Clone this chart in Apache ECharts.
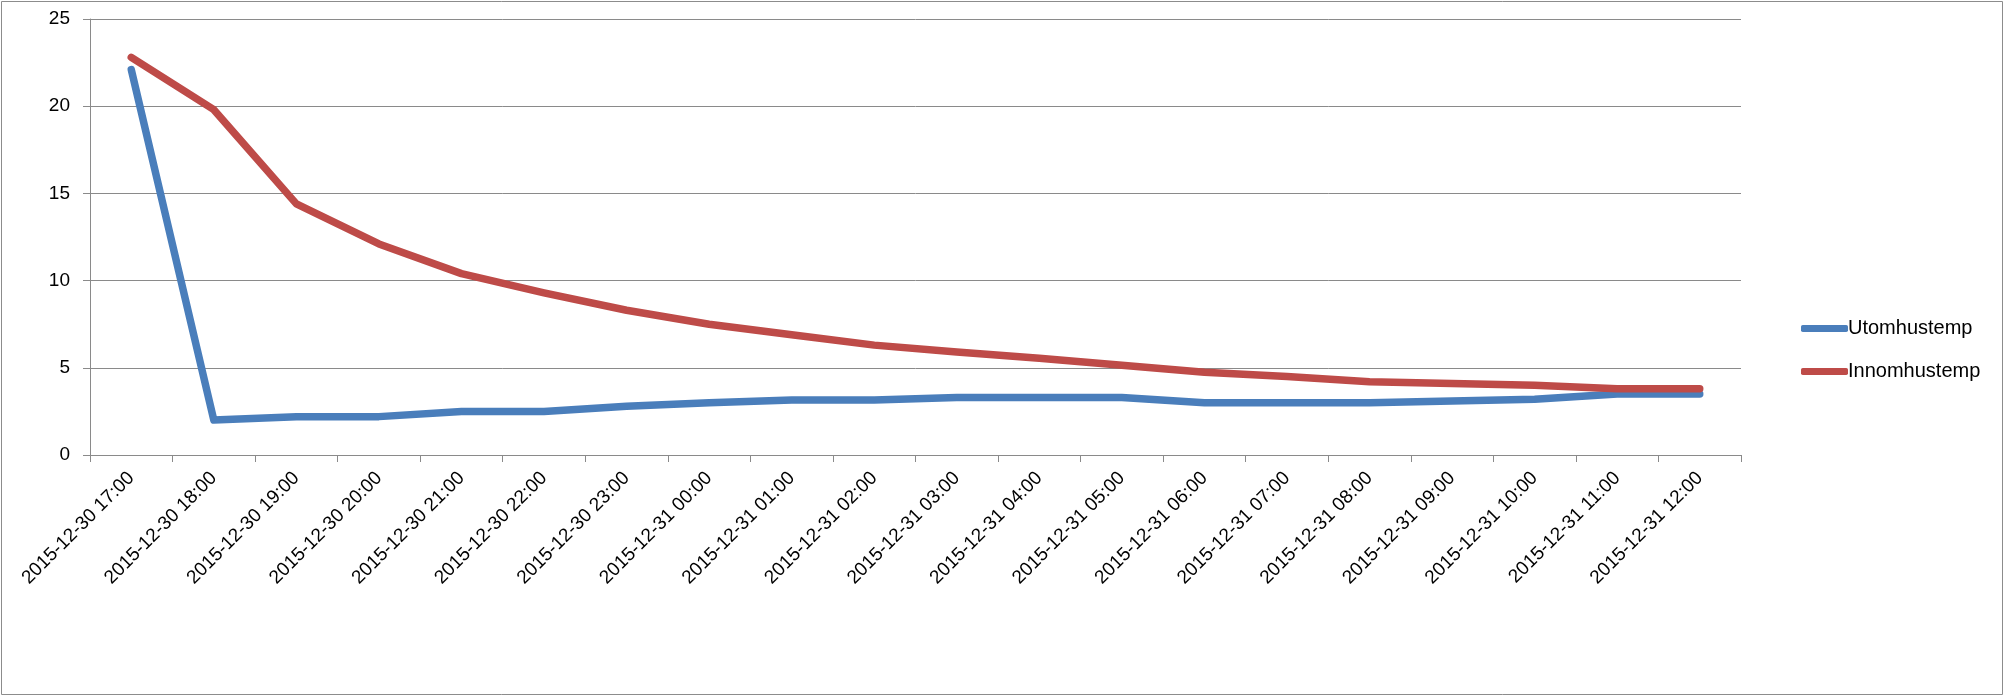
<!DOCTYPE html>
<html>
<head>
<meta charset="utf-8">
<script src="https://cdn.jsdelivr.net/npm/echarts@6/dist/echarts.min.js"></script>
<style>
  html, body { margin: 0; padding: 0; background: #ffffff; }
  #chart { width: 2005px; height: 696px; }
</style>
</head>
<body>
<div id="chart"></div>
<script>
const categories = [
  '2015-12-30 17:00', '2015-12-30 18:00', '2015-12-30 19:00', '2015-12-30 20:00',
  '2015-12-30 21:00', '2015-12-30 22:00', '2015-12-30 23:00', '2015-12-31 00:00',
  '2015-12-31 01:00', '2015-12-31 02:00', '2015-12-31 03:00', '2015-12-31 04:00',
  '2015-12-31 05:00', '2015-12-31 06:00', '2015-12-31 07:00', '2015-12-31 08:00',
  '2015-12-31 09:00', '2015-12-31 10:00', '2015-12-31 11:00', '2015-12-31 12:00'
];
const utomhustemp = [22.1, 2.0, 2.2, 2.2, 2.5, 2.5, 2.8, 3.0, 3.15, 3.15, 3.3, 3.3, 3.3, 3.0, 3.0, 3.0, 3.1, 3.2, 3.5, 3.5];
const innomhustemp = [22.8, 19.8, 14.4, 12.1, 10.4, 9.3, 8.3, 7.5, 6.9, 6.3, 5.9, 5.55, 5.15, 4.75, 4.5, 4.2, 4.1, 4.0, 3.8, 3.8];
const seriesNames = ['Utomhustemp', 'Innomhustemp'];
const yTicks = { min: 0, max: 25, interval: 5 };

const FONT = '"Liberation Sans", Arial, sans-serif';
const AXIS_GRAY = '#8a8a8a';

const chart = echarts.init(document.getElementById('chart'), null, { renderer: 'canvas' });
chart.setOption({
  animation: false,
  backgroundColor: '#ffffff',
  color: ['#4A7EBB', '#BE4B48'],
  graphic: [{
    type: 'rect',
    shape: { x: 1.5, y: 1.5, width: 2001, height: 693 },
    style: { fill: 'none', stroke: '#8c8c8c', lineWidth: 1 },
    silent: true
  }],
  grid: { left: 90, top: 19, width: 1651, height: 436, containLabel: false },
  legend: {
    orient: 'vertical',
    left: 1796,
    top: 312,
    itemWidth: 47,
    itemHeight: 7,
    itemGap: 20,
    icon: 'roundRect',
    textStyle: { fontFamily: FONT, fontSize: 20, color: '#000', lineHeight: 23, padding: [0, 0, 0, -5] },
    data: seriesNames
  },
  xAxis: {
    type: 'category',
    data: categories,
    boundaryGap: true,
    axisLine: { show: true, lineStyle: { color: AXIS_GRAY, width: 1 } },
    axisTick: { show: true, length: 7, alignWithLabel: false, lineStyle: { color: AXIS_GRAY } },
    axisLabel: { interval: 0, rotate: 45, margin: 20, fontFamily: FONT, fontSize: 19, color: '#000' },
    splitLine: { show: false }
  },
  yAxis: {
    type: 'value',
    min: yTicks.min,
    max: yTicks.max,
    interval: yTicks.interval,
    axisLine: { show: true, lineStyle: { color: AXIS_GRAY, width: 1 } },
    axisTick: { show: true, length: 7, lineStyle: { color: AXIS_GRAY } },
    axisLabel: { margin: 20, fontFamily: FONT, fontSize: 19, color: '#000' },
    splitLine: { show: true, lineStyle: { color: AXIS_GRAY, width: 1 } }
  },
  series: [
    {
      name: seriesNames[0], type: 'line', data: utomhustemp, symbol: 'none',
      lineStyle: { width: 7.5, cap: 'round', join: 'round' }
    },
    {
      name: seriesNames[1], type: 'line', data: innomhustemp, symbol: 'none',
      lineStyle: { width: 7.5, cap: 'round', join: 'round' }
    }
  ]
});
</script>
</body>
</html>
